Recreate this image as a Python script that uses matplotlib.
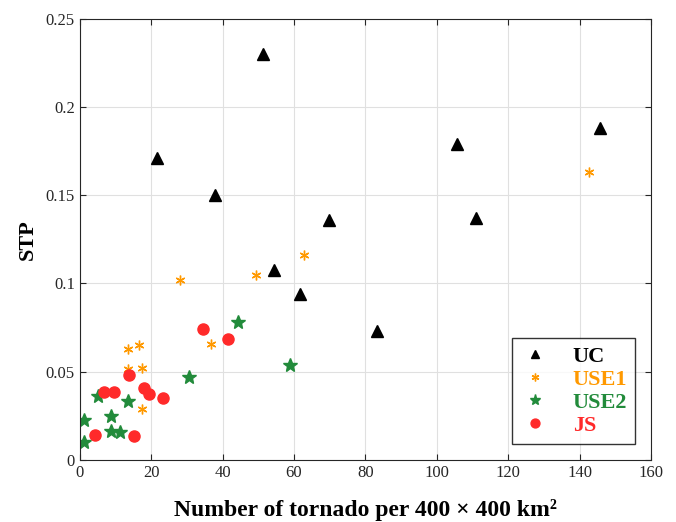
import matplotlib.pyplot as plt

plt.rcParams['font.family'] = ['Liberation Serif', 'DejaVu Serif']

# data
uc_x = [21.6, 38.0, 51.3, 54.4, 61.7, 69.9, 83.3, 105.7, 110.9, 145.8]
uc_y = [0.171, 0.150, 0.230, 0.1075, 0.094, 0.136, 0.073, 0.179, 0.137, 0.188]

use1_x = [13.6, 16.5, 13.6, 17.5, 17.5, 28.0, 36.7, 49.3, 62.7, 142.7]
use1_y = [0.063, 0.065, 0.0516, 0.052, 0.029, 0.102, 0.0657, 0.105, 0.116, 0.163]

use2_x = [1.3, 1.3, 5.0, 8.7, 8.7, 11.2, 13.6, 30.6, 44.2, 58.9]
use2_y = [0.0225, 0.010, 0.036, 0.025, 0.0165, 0.0158, 0.0336, 0.047, 0.078, 0.054]

js_x = [4.2, 6.9, 9.7, 13.7, 15.2, 18.0, 19.4, 23.4, 34.5, 41.4]
js_y = [0.0139, 0.0387, 0.0387, 0.048, 0.0135, 0.041, 0.0375, 0.0353, 0.0743, 0.0685]

labels = ['UC', 'USE1', 'USE2', 'JS']
colors = ['black', '#FF9900', '#228B3B', '#FF2A2A']

fig = plt.figure(figsize=(6.76, 5.22), dpi=100)
ax = fig.add_axes([0.118, 0.119, 0.845, 0.845])

ax.plot(uc_x, uc_y, ls='none', marker='^', ms=8, color=colors[0], label=labels[0])
ax.plot(use1_x, use1_y, ls='none', marker=(6, 2, 0), ms=7, mew=1.0, color=colors[1], label=labels[1])
ax.plot(use2_x, use2_y, ls='none', marker='*', ms=10, color=colors[2], label=labels[2])
ax.plot(js_x, js_y, ls='none', marker='o', ms=8, color=colors[3], label=labels[3])

ax.set_xlim(0, 160)
ax.set_ylim(0, 0.25)
ax.set_xticks(range(0, 161, 20))
ax.set_yticks([0, 0.05, 0.1, 0.15, 0.2, 0.25])
ax.set_yticklabels(['0', '0.05', '0.1', '0.15', '0.2', '0.25'])
ax.grid(True, color='#e0e0e0', lw=0.8)
ax.set_axisbelow(True)
ax.tick_params(direction='in', top=True, right=True, labelsize=12, colors='#262626', length=4)
for s in ax.spines.values():
    s.set_color('#262626')
    s.set_linewidth(0.8)

ax.set_xlabel('Number of tornado per 400 × 400 km²', fontsize=17, fontweight='bold', labelpad=13)
ax.set_ylabel('STP', fontsize=16, fontweight='bold', labelpad=6)

leg = ax.legend(loc='lower right', bbox_to_anchor=(0.972, 0.036), fancybox=False, edgecolor='black',
                prop={'weight': 'bold', 'size': 16}, handletextpad=1.0, borderpad=0.35,
                labelspacing=0.12, handlelength=1.4, borderaxespad=0, markerscale=0.8)
leg.get_frame().set_linewidth(1.0)
for t, c in zip(leg.get_texts(), colors):
    t.set_color(c)

fig.savefig('out.png', dpi=100)
